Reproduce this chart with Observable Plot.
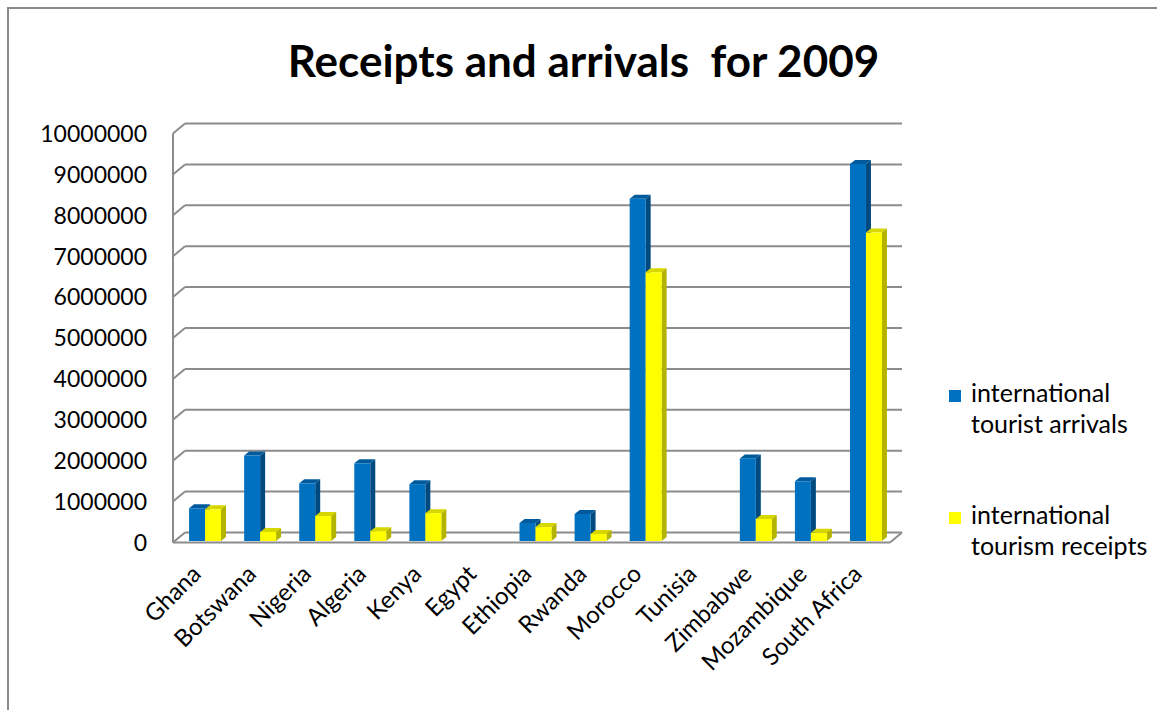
<!DOCTYPE html>
<html><head><meta charset="utf-8">
<script src="https://cdn.jsdelivr.net/npm/d3@7"></script>
<script src="https://cdn.jsdelivr.net/npm/@observablehq/plot@0.6"></script>
<style>
body{margin:0;background:#fff;}
#wrap{position:relative;width:1157px;height:710px;overflow:hidden;font-family:Lato,"Open Sans",sans-serif;color:#000;background:#fff;}
#border{position:absolute;left:7px;top:7px;width:1200px;height:800px;border-left:2px solid #8a8a8a;border-top:2px solid #8a8a8a;}
#title{position:absolute;left:0;width:1167px;top:38px;text-align:center;font-weight:700;font-size:44px;line-height:1;white-space:pre;}
#chart{position:absolute;left:0;top:0;}
.sw{position:absolute;left:949px;width:12px;height:12px;}
.lt{position:absolute;left:971px;font-size:25px;line-height:31px;white-space:nowrap;}
</style></head>
<body>
<div id="wrap">
  <div id="border"></div>
  <div id="chart"></div>
  <div id="title"></div>
  <div id="legend"></div>
</div>
<script>
// ---- data ----
const countries = ["Ghana","Botswana","Nigeria","Algeria","Kenya","Egypt","Ethiopia","Rwanda","Morocco","Tunisia","Zimbabwe","Mozambique","South Africa"];
const arrivals  = [800000, 2090000, 1410000, 1900000, 1390000, null, 440000, 660000, 8370000, null, 2020000, 1460000, 9220000];
const receipts  = [775000,  220000,  610000,  240000,  680000, null, 340000, 170000, 6570000, null,  540000,  200000, 7540000];
const seriesNames = ["international tourist arrivals", "international tourism receipts"];
const legendLines = [["international", "tourist arrivals"], ["international", "tourism receipts"]];
const yTicks = [0, 1000000, 2000000, 3000000, 4000000, 5000000, 6000000, 7000000, 8000000, 9000000, 10000000];
const titleText = "Receipts and arrivals  for 2009";

// ---- styles ----
const colors = {front: ["#0070C0", "#FFFF00"], top: ["#005A9C", "#D6D600"], side: ["#004A80", "#B3B300"]};
const gridColor = "#8c8c8c";
const PAD_IN = 0.42, PAD_OUT = 0.21;
const DX = 12, DY = -10;     // wall depth
const BD = 5, BZ = 4;         // bar depth

const rowsA = countries.map((c, i) => ({country: c, series: seriesNames[0], value: arrivals[i]})).filter(d => d.value != null);
const rowsR = countries.map((c, i) => ({country: c, series: seriesNames[1], value: receipts[i]})).filter(d => d.value != null);

function frame3d(index, scales, values, dims) {
  const y = scales.y;
  const L = dims.marginLeft - 4.5, R = dims.width - dims.marginRight - 3.5;
  const yf = v => y(v) + 1.5;
  const g = d3.create("svg:g").attr("stroke", gridColor).attr("stroke-width", 2).attr("fill", "none");
  for (const v of yTicks) {
    g.append("line").attr("x1", L).attr("y1", yf(v)).attr("x2", L + DX).attr("y2", yf(v) + DY);
    g.append("line").attr("x1", L + DX).attr("y1", yf(v) + DY).attr("x2", R + DX).attr("y2", yf(v) + DY);
  }
  const y0 = yf(yTicks[0]), yMax = yf(yTicks[yTicks.length - 1]);
  g.append("line").attr("x1", L).attr("y1", y0).attr("x2", L).attr("y2", yMax);
  g.append("line").attr("x1", L).attr("y1", y0).attr("x2", R).attr("y2", y0);
  g.append("line").attr("x1", R).attr("y1", y0).attr("x2", R + DX).attr("y2", y0 + DY);
  return g.node();
}

function faces(data, k) {
  return (index, scales) => {
    const {x, y} = scales;
    const step = x(countries[1]) - x(countries[0]);
    const w = step * (1 - PAD_IN) / 2;
    const g = d3.create("svg:g");
    for (const d of data) {
      const x0 = x(d.country) + k * w;
      const yt = y(d.value), yb = y(0);
      g.append("polygon").attr("fill", colors.top[k])
        .attr("points", [[x0, yt], [x0 + BD, yt - BZ], [x0 + w + BD, yt - BZ], [x0 + w, yt]].join(" "));
      g.append("polygon").attr("fill", colors.side[k])
        .attr("points", [[x0 + w, yt], [x0 + w + BD, yt - BZ], [x0 + w + BD, yb - BZ], [x0 + w, yb]].join(" "));
    }
    return g.node();
  };
}

const bw = (716 / 13) * (1 - PAD_IN);

const chart = Plot.plot({
  width: 1157,
  height: 710,
  marginLeft: 177.5,
  marginRight: 263.5,
  marginTop: 132,
  marginBottom: 169,
  style: {fontFamily: "Lato, 'Open Sans', sans-serif", fontSize: "23px", color: "#000", background: "transparent", overflow: "visible"},
  x: {domain: countries, paddingInner: PAD_IN, paddingOuter: PAD_OUT, round: false, axis: null},
  y: {domain: [0, 10000000]},
  marks: [
    frame3d,
    faces(rowsA, 0),
    Plot.barY(rowsA, {x: "country", y: "value", fill: colors.front[0], insetLeft: 0, insetRight: bw / 2}),
    faces(rowsR, 1),
    Plot.barY(rowsR, {x: "country", y: "value", fill: colors.front[1], insetLeft: bw / 2, insetRight: 0}),
    Plot.axisY(yTicks, {tickSize: 0, tickPadding: 31, tickFormat: d3.format("d"), fontSize: 23, dy: 2, label: null, fill: "#000"}),
    Plot.text(countries, {x: d => d, text: d => d, frameAnchor: "bottom", rotate: -45, textAnchor: "end", dy: 34, dx: -3, fontSize: 24, fill: "#000"})
  ]
});
document.getElementById("chart").appendChild(chart);

document.getElementById("title").textContent = titleText;

const legend = document.getElementById("legend");
const legTops = [377, 499];
legendLines.forEach((lines, i) => {
  const sw = document.createElement("div");
  sw.className = "sw";
  sw.style.top = (legTops[i] + 13) + "px";
  sw.style.background = colors.front[i];
  legend.appendChild(sw);
  const t = document.createElement("div");
  t.className = "lt";
  t.style.top = legTops[i] + "px";
  t.innerHTML = lines.join("<br>");
  t.title = seriesNames[i];
  legend.appendChild(t);
});
</script>
</body></html>
